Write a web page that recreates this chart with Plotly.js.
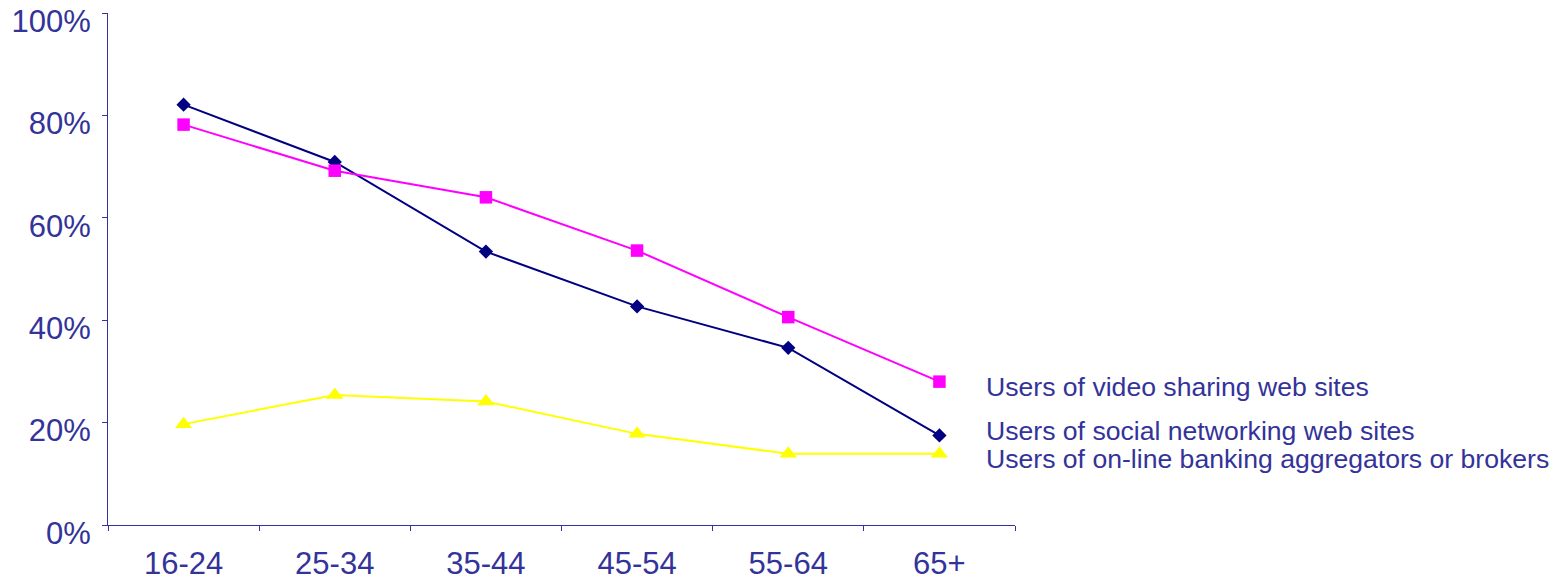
<!DOCTYPE html>
<html>
<head>
<meta charset="utf-8">
<script src="https://cdn.plot.ly/plotly-3.0.1.min.js"></script>
<style>
  html, body { margin: 0; padding: 0; background: #ffffff; }
  #chart { width: 1558px; height: 581px; }
</style>
</head>
<body>
<div id="chart"></div>
<script>
// Age bands along the x axis
const ageGroups = ['16-24', '25-34', '35-44', '45-54', '55-64', '65+'];

// Share of each age band using each kind of site (%)
const socialNetworking = [82.1, 70.9, 53.4, 42.7, 34.6, 17.5];
const videoSharing = [78.2, 69.2, 64.0, 53.6, 40.6, 28.0];
const bankingAggregators = [19.7, 25.4, 24.1, 17.8, 13.9, 13.9];

// Series names, written next to the last point of each line
const seriesNames = [
  'Users of social networking web sites',
  'Users of video sharing web sites',
  'Users of on-line banking aggregators or brokers'
];

const textColor = '#333399';
const fontFamily = '"Liberation Sans", Arial, sans-serif';

const series = [
  { y: socialNetworking, color: '#000080', symbol: 'diamond', size: 11, shift: 4 },
  { y: videoSharing, color: '#FF00FF', symbol: 'square', size: 12.5, shift: -5 },
  { y: bankingAggregators, color: '#FFFF00', symbol: 'triangle-up', size: 15, shift: -5 }
];

const traces = series.map((s, i) => ({
  type: 'scatter',
  mode: 'lines+markers',
  name: seriesNames[i],
  x: ageGroups,
  y: s.y,
  line: { color: s.color, width: 2 },
  marker: { color: s.color, symbol: s.symbol, size: s.size, line: { width: 0 } },
  cliponaxis: false,
  hoverinfo: 'skip'
}));

// Labels placed just right of each series' final point
const labels = series.map((s, i) => ({
  x: ageGroups[ageGroups.length - 1],
  y: s.y[s.y.length - 1],
  xref: 'x',
  yref: 'y',
  text: seriesNames[i],
  showarrow: false,
  xanchor: 'left',
  yanchor: 'middle',
  xshift: 45,
  yshift: s.shift,
  font: { family: fontFamily, size: 26.6, color: textColor }
}));

const layout = {
  width: 1558,
  height: 581,
  margin: { l: 108, r: 543, t: 13, b: 56, pad: 0 },
  paper_bgcolor: '#ffffff',
  plot_bgcolor: '#ffffff',
  showlegend: false,
  font: { family: fontFamily, color: textColor },
  xaxis: {
    type: 'category',
    range: [-0.5, 5.5],
    tickson: 'boundaries',
    ticks: 'outside',
    ticklen: 5,
    tickwidth: 1,
    tickcolor: textColor,
    showline: true,
    linecolor: textColor,
    linewidth: 1,
    showgrid: false,
    zeroline: false,
    ticklabelstandoff: 11,
    tickfont: { family: fontFamily, size: 31, color: textColor },
    fixedrange: true
  },
  yaxis: {
    range: [0, 100],
    tickmode: 'linear',
    tick0: 0,
    dtick: 20,
    ticksuffix: '%',
    ticks: 'outside',
    ticklen: 5,
    tickwidth: 1,
    tickcolor: textColor,
    showline: true,
    linecolor: textColor,
    linewidth: 1,
    showgrid: false,
    zeroline: false,
    ticklabelstandoff: 5,
    ticklabelshift: 8,
    ticklabeloverflow: 'allow',
    tickfont: { family: fontFamily, size: 31, color: textColor },
    fixedrange: true
  },
  annotations: labels
};

Plotly.newPlot('chart', traces, layout, { displayModeBar: false, staticPlot: true });
</script>
</body>
</html>
